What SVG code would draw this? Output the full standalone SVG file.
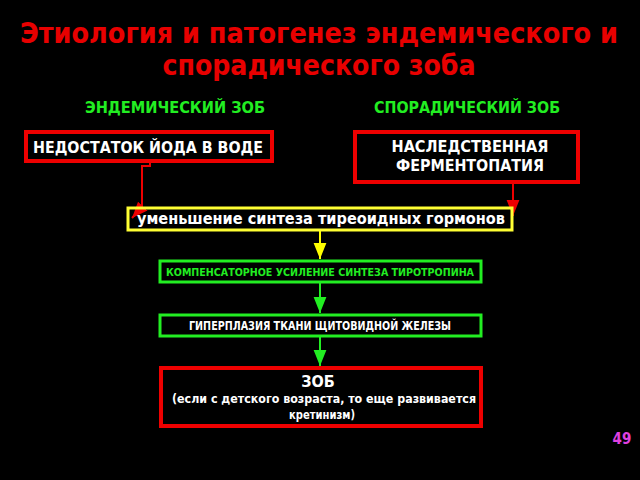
<svg xmlns="http://www.w3.org/2000/svg" width="640" height="480" viewBox="0 0 640 480">
<defs>
<style>
text{font-family:"DejaVu Sans Condensed","DejaVu Sans",sans-serif;font-weight:bold}
.t{fill:#e80000;font-size:28px;text-anchor:middle}
.h{fill:#22ee22;font-size:15px;text-anchor:middle}
.w{fill:#fff}
.r{fill:none;stroke:#ee0000;stroke-width:4}
.y{fill:none;stroke:#ffff33;stroke-width:3}
.g{fill:none;stroke:#22ee22;stroke-width:3}
.c{fill:none;stroke-width:2}
</style>
<marker id="ar" viewBox="0 0 10 10" refX="10" refY="5" markerWidth="8" markerHeight="8" orient="auto" markerUnits="strokeWidth"><path d="M0,1L10,5L0,9z" fill="#ee0000"/></marker>
<marker id="ay" viewBox="0 0 10 10" refX="10" refY="5" markerWidth="8" markerHeight="8" orient="auto" markerUnits="strokeWidth"><path d="M0,1L10,5L0,9z" fill="#ffff00"/></marker>
<marker id="ag" viewBox="0 0 10 10" refX="10" refY="5" markerWidth="8" markerHeight="8" orient="auto" markerUnits="strokeWidth"><path d="M0,1L10,5L0,9z" fill="#22ee22"/></marker>
</defs>
<rect width="640" height="480" fill="#000"/>
<g id="title">
<text class="t" x="319" y="43" textLength="598" lengthAdjust="spacingAndGlyphs">Этиология и патогенез эндемического и</text>
<text class="t" x="319" y="75" textLength="313" lengthAdjust="spacingAndGlyphs">спорадического зоба</text>
</g>
<g id="head1"><text class="h" x="175" y="113" textLength="180" lengthAdjust="spacingAndGlyphs">ЭНДЕМИЧЕСКИЙ ЗОБ</text></g>
<g id="head2"><text class="h" x="467" y="113" textLength="186" lengthAdjust="spacingAndGlyphs">СПОРАДИЧЕСКИЙ ЗОБ</text></g>
<g id="connectors">
<polyline class="c" points="150,161 150,166 142,166 142,207 132,218" stroke="#ee0000" marker-end="url(#ar)"/>
<line class="c" x1="513" y1="182" x2="513" y2="216" stroke="#ee0000" marker-end="url(#ar)"/>
<line class="c" x1="320" y1="231" x2="320" y2="259" stroke="#ffff00" marker-end="url(#ay)"/>
<line class="c" x1="320" y1="283" x2="320" y2="313" stroke="#22ee22" marker-end="url(#ag)"/>
<line class="c" x1="320" y1="337" x2="320" y2="366" stroke="#22ee22" marker-end="url(#ag)"/>
</g>
<g id="n1"><rect class="r" x="26" y="132" width="246" height="29"/>
<text class="w" x="33" y="153" font-size="16" textLength="230" lengthAdjust="spacingAndGlyphs">НЕДОСТАТОК ЙОДА В ВОДЕ</text></g>
<g id="n2"><rect class="r" x="355" y="132" width="223" height="50"/>
<text class="w" x="470" y="152" font-size="16" text-anchor="middle" textLength="157" lengthAdjust="spacingAndGlyphs">НАСЛЕДСТВЕННАЯ</text>
<text class="w" x="470" y="171" font-size="16" text-anchor="middle" textLength="148" lengthAdjust="spacingAndGlyphs">ФЕРМЕНТОПАТИЯ</text></g>
<g id="n3"><rect class="y" x="128" y="208" width="384" height="22"/>
<text class="w" x="137" y="224" font-size="16" textLength="368" lengthAdjust="spacingAndGlyphs">уменьшение синтеза тиреоидных гормонов</text></g>
<g id="n4"><rect class="g" x="160" y="261" width="321" height="21"/>
<text x="320" y="276" font-size="11" fill="#22ee22" text-anchor="middle" textLength="308" lengthAdjust="spacingAndGlyphs">КОМПЕНСАТОРНОЕ УСИЛЕНИЕ СИНТЕЗА ТИРОТРОПИНА</text></g>
<g id="n5"><rect class="g" x="160" y="315" width="321" height="21"/>
<text class="w" x="320" y="330" font-size="11.5" text-anchor="middle" textLength="262" lengthAdjust="spacingAndGlyphs">ГИПЕРПЛАЗИЯ ТКАНИ ЩИТОВИДНОЙ ЖЕЛЕЗЫ</text></g>
<g id="n6"><rect class="r" x="161" y="368" width="320" height="58"/>
<text class="w" x="318" y="387" font-size="16" text-anchor="middle">ЗОБ</text>
<text class="w" x="324" y="403" font-size="12.5" text-anchor="middle" textLength="304" lengthAdjust="spacingAndGlyphs">(если с детского возраста, то еще развивается</text>
<text class="w" x="322" y="419" font-size="12.5" text-anchor="middle" textLength="66" lengthAdjust="spacingAndGlyphs">кретинизм)</text></g>
<g id="page"><text x="622" y="444" font-size="15" fill="#e040e0" text-anchor="middle">49</text></g>
</svg>
